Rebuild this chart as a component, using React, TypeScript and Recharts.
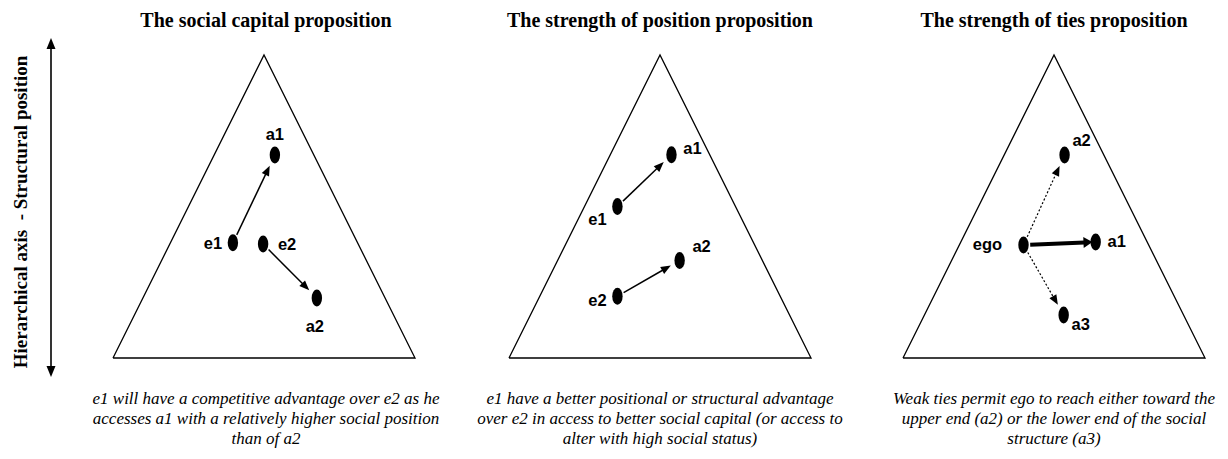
import React from 'react';
import { ScatterChart, Scatter, XAxis, YAxis, ReferenceLine } from 'recharts';

type Node = { name: string; x: number; y: number };
type Tie = { from: string; to: string; kind: 'plain' | 'strong' | 'weak' };

// triangle outline, in percent of the panel box
const triangle = [
  { x: 0, y: 0 },
  { x: 50, y: 100 },
  { x: 100, y: 0 },
  { x: 0, y: 0 },
];

const socialCapitalNodes: Node[] = [
  { name: 'a1', x: 53.6, y: 67.0 },
  { name: 'e1', x: 39.7, y: 38.0 },
  { name: 'e2', x: 49.7, y: 37.6 },
  { name: 'a2', x: 67.5, y: 19.8 },
];
const socialCapitalTies: Tie[] = [
  { from: 'e1', to: 'a1', kind: 'plain' },
  { from: 'e2', to: 'a2', kind: 'plain' },
];

const positionNodes: Node[] = [
  { name: 'a1', x: 53.8, y: 67.1 },
  { name: 'e1', x: 35.9, y: 50.0 },
  { name: 'a2', x: 56.5, y: 32.2 },
  { name: 'e2', x: 35.9, y: 20.4 },
];
const positionTies: Tie[] = [
  { from: 'e1', to: 'a1', kind: 'plain' },
  { from: 'e2', to: 'a2', kind: 'plain' },
];

const tiesNodes: Node[] = [
  { name: 'a2', x: 53.5, y: 67.0 },
  { name: 'ego', x: 39.9, y: 37.3 },
  { name: 'a1', x: 63.8, y: 38.3 },
  { name: 'a3', x: 53.2, y: 14.2 },
];
const tiesTies: Tie[] = [
  { from: 'ego', to: 'a2', kind: 'weak' },
  { from: 'ego', to: 'a1', kind: 'strong' },
  { from: 'ego', to: 'a3', kind: 'weak' },
];

const titles = [
  'The social capital proposition',
  'The strength of position proposition',
  'The strength of ties proposition',
];

const captions = [
  [
    'e1 will have a competitive advantage over e2 as he',
    'accesses a1 with a relatively higher social position',
    'than of a2',
  ],
  [
    'e1 have a better positional or structural advantage',
    'over e2 in access to better social capital (or access to',
    'alter with high social status)',
  ],
  [
    'Weak ties permit ego to reach either toward the',
    'upper end (a2) or the lower end of the social',
    'structure (a3)',
  ],
];

const axisLabel = 'Hierarchical axis  - Structural position';

// label offsets (px) from each node
const labelOffsets: Record<string, [number, number]>[] = [
  { a1: [0, -21], e1: [-20, 0], e2: [24, 0], a2: [-2, 28] },
  { a1: [21, -7], e1: [-20, 12], a2: [22, -14], e2: [-20, 4] },
  { a2: [17, -15], ego: [-36, -1], a1: [21, -1], a3: [17, 9] },
];

const W = 302;
const H = 303;
const M = 10;
const TOP = 55;
const lefts = [113, 509, 903];
const centers = [266, 660, 1054];

const RX = 5.2;
const RY = 8.5;

function ellipseRadius(ux: number, uy: number) {
  return 1 / Math.sqrt((ux / RX) ** 2 + (uy / RY) ** 2);
}

const arrowShape = (kind: Tie['kind']) => (p: any) => {
  const { x1, y1, x2, y2 } = p;
  if (![x1, y1, x2, y2].every((v) => typeof v === 'number')) return <g />;
  const dx = x2 - x1;
  const dy = y2 - y1;
  const len = Math.hypot(dx, dy);
  const ux = dx / len;
  const uy = dy / len;
  const r = ellipseRadius(ux, uy);
  const gap = kind === 'strong' ? -2 : 4.5;
  const sx = x1 + ux * (r + 1.5);
  const sy = y1 + uy * (r + 1.5);
  const tx = x2 - ux * (r + gap);
  const ty = y2 - uy * (r + gap);
  const headLen = kind === 'strong' ? 9 : 10;
  const headW = kind === 'strong' ? 5.5 : 4;
  const bx = tx - ux * headLen;
  const by = ty - uy * headLen;
  const px = -uy;
  const py = ux;
  return (
    <g>
      <line
        x1={sx}
        y1={sy}
        x2={bx + ux}
        y2={by + uy}
        stroke="#000"
        strokeWidth={kind === 'strong' ? 4 : kind === 'weak' ? 1.2 : 1.5}
        strokeDasharray={kind === 'weak' ? '2 2' : undefined}
      />
      <polygon
        points={`${tx},${ty} ${bx + px * headW},${by + py * headW} ${bx - px * headW},${by - py * headW}`}
        fill="#000"
      />
    </g>
  );
};

const nodeShape = (offsets: Record<string, [number, number]>) => (props: any) => {
  const { cx, cy, payload } = props;
  const [dx, dy] = offsets[payload.name] || [0, 0];
  return (
    <g>
      <ellipse cx={cx} cy={cy} rx={RX} ry={RY} fill="#000" />
      <text
        x={cx + dx}
        y={cy + dy}
        textAnchor="middle"
        dominantBaseline="central"
        fontFamily="'Liberation Sans', Arial, sans-serif"
        fontWeight="bold"
        fontSize={16.5}
        fill="#000"
      >
        {payload.name}
      </text>
    </g>
  );
};

function Panel({ nodes, ties, offsets, left }: { nodes: Node[]; ties: Tie[]; offsets: Record<string, [number, number]>; left: number }) {
  const byName = Object.fromEntries(nodes.map((n) => [n.name, n]));
  return (
    <div style={{ position: 'absolute', left: left - M, top: TOP - M }}>
      <ScatterChart width={W + 2 * M} height={H + 2 * M} margin={{ top: M, right: M, bottom: M, left: M }}>
        <XAxis type="number" dataKey="x" domain={[0, 100]} hide />
        <YAxis type="number" dataKey="y" domain={[0, 100]} hide />
        <Scatter
          data={triangle}
          fill="#000"
          line={{ stroke: '#000', strokeWidth: 1.3 }}
          shape={() => <g />}
          isAnimationActive={false}
        />
        {ties.map((t) => {
          const a = byName[t.from];
          const b = byName[t.to];
          return (
            <ReferenceLine
              key={t.from + t.to}
              segment={[
                { x: a.x, y: a.y },
                { x: b.x, y: b.y },
              ]}
              shape={arrowShape(t.kind)}
            />
          );
        })}
        <Scatter data={nodes} fill="#000" shape={nodeShape(offsets)} isAnimationActive={false} />
      </ScatterChart>
    </div>
  );
}

export default function App() {
  const serif = "'Liberation Serif', 'Times New Roman', serif";
  return (
    <div style={{ position: 'absolute', left: 0, top: 0, width: 1228, height: 459, background: '#fff', overflow: 'hidden' }}>
      <svg width={80} height={459} style={{ position: 'absolute', left: 0, top: 0 }}>
        <line x1={51} y1={46} x2={51} y2={369} stroke="#000" strokeWidth={1.6} />
        <polygon points="51,38 46.5,49 55.5,49" fill="#000" />
        <polygon points="51,377 46.5,366 55.5,366" fill="#000" />
        <text
          transform="translate(27,212) rotate(-90)"
          textAnchor="middle"
          fontFamily={serif}
          fontWeight="bold"
          fontSize={19}
          fill="#000"
          xmlSpace="preserve"
        >
          {axisLabel}
        </text>
      </svg>

      {titles.map((t, i) => (
        <div
          key={t}
          style={{
            position: 'absolute',
            left: centers[i] - 200,
            width: 400,
            top: 10,
            textAlign: 'center',
            fontFamily: serif,
            fontWeight: 'bold',
            fontSize: 20,
            lineHeight: '20px',
            color: '#000',
          }}
        >
          {t}
        </div>
      ))}

      <Panel nodes={socialCapitalNodes} ties={socialCapitalTies} offsets={labelOffsets[0]} left={lefts[0]} />
      <Panel nodes={positionNodes} ties={positionTies} offsets={labelOffsets[1]} left={lefts[1]} />
      <Panel nodes={tiesNodes} ties={tiesTies} offsets={labelOffsets[2]} left={lefts[2]} />

      {captions.map((lines, i) => (
        <div
          key={i}
          style={{
            position: 'absolute',
            left: centers[i] - 200,
            width: 400,
            top: 389,
            textAlign: 'center',
            fontFamily: serif,
            fontStyle: 'italic',
            fontSize: 17,
            lineHeight: '20px',
            color: '#000',
          }}
        >
          {lines.map((l) => (
            <div key={l}>{l}</div>
          ))}
        </div>
      ))}
    </div>
  );
}
